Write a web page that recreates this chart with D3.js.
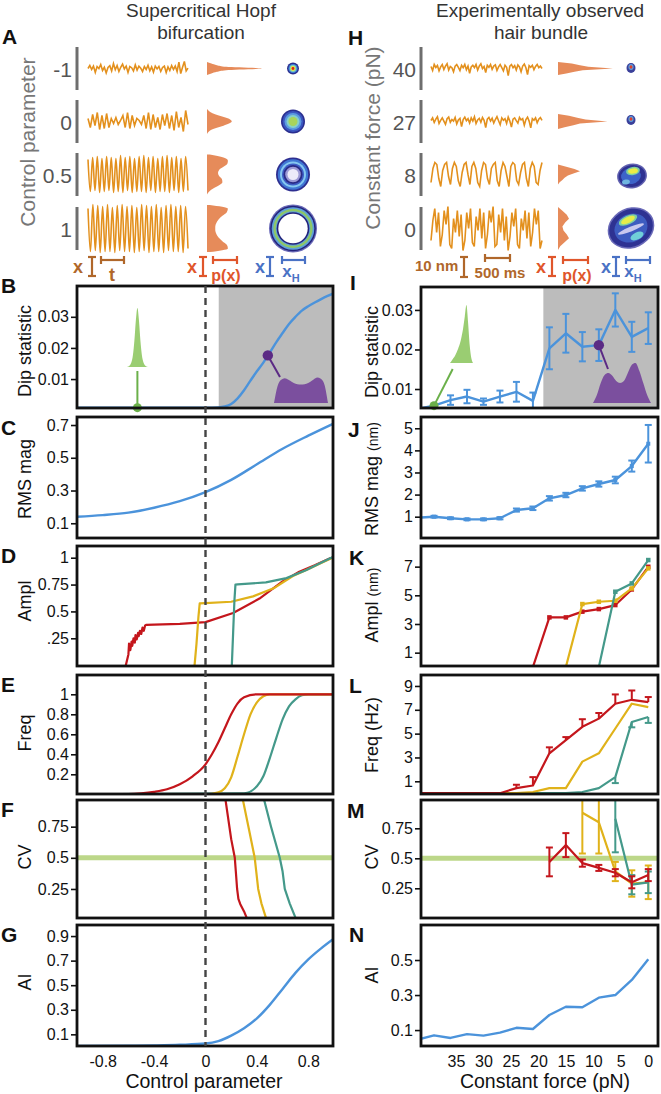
<!DOCTYPE html>
<html>
<head>
<meta charset="utf-8">
<script src="https://cdn.jsdelivr.net/npm/d3@7"></script>
<style>
  body { margin: 0; background: #fff; }
</style>
</head>
<body>
<div id="canva"></div>
<script>
// ---------- data: model (left column) ----------
const ctrlDip = [-1, -0.5, 0, 0.1, 0.15, 0.2, 0.25, 0.3, 0.35, 0.4, 0.45, 0.5, 0.55, 0.6, 0.65, 0.7, 0.75, 0.8, 0.85, 0.9, 0.95, 1];
const dipModel = [0.0008, 0.0008, 0.0008, 0.0009, 0.0012, 0.002, 0.0038, 0.0064, 0.0095, 0.0125, 0.0153, 0.0185, 0.0218, 0.0248, 0.0277, 0.030, 0.032, 0.0334, 0.0346, 0.0357, 0.0367, 0.0376];

const ctrlRms = [-1, -0.8, -0.6, -0.4, -0.2, 0, 0.2, 0.4, 0.6, 0.8, 1];
const rmsModel = [0.14, 0.15, 0.165, 0.195, 0.235, 0.29, 0.365, 0.46, 0.555, 0.635, 0.71];

const ctrlAmplRed = [-0.62, -0.6, -0.595, -0.585, -0.575, -0.57, -0.56, -0.55, -0.545, -0.535, -0.525, -0.52, -0.51, -0.5, -0.49, -0.48, -0.47, -0.46, -0.4, -0.2, 0, 0.215, 0.42, 0.6, 0.73, 0.85, 0.97, 1];
const amplRed = [0, 0.1, 0.2, 0.14, 0.22, 0.18, 0.25, 0.21, 0.28, 0.24, 0.3, 0.27, 0.32, 0.29, 0.35, 0.32, 0.37, 0.375, 0.378, 0.385, 0.4, 0.485, 0.62, 0.78, 0.87, 0.93, 0.995, 1.005];
const ctrlAmplYel = [-0.085, -0.07, -0.055, -0.045, 0, 0.2, 0.37, 0.53, 0.68, 0.785, 0.9, 1];
const amplYel = [0, 0.2, 0.45, 0.575, 0.578, 0.59, 0.64, 0.715, 0.83, 0.885, 0.95, 1.005];
const ctrlAmplTeal = [0.205, 0.215, 0.225, 0.233, 0.25, 0.47, 0.63, 0.785, 0.97, 1];
const amplTeal = [0, 0.3, 0.6, 0.75, 0.752, 0.77, 0.81, 0.885, 0.995, 1.01];

const ctrlFreqRed = [-1, -0.6, -0.5, -0.4, -0.3, -0.2, -0.1, 0, 0.05, 0.1, 0.15, 0.2, 0.25, 0.3, 0.4, 0.5, 1];
const freqRed = [0, 0.003, 0.01, 0.025, 0.05, 0.1, 0.18, 0.3, 0.4, 0.52, 0.66, 0.8, 0.91, 0.97, 1, 1, 1];
const ctrlFreqYel = [-1, 0, 0.1, 0.15, 0.2, 0.25, 0.3, 0.35, 0.4, 0.45, 0.5, 0.6, 1];
const freqYel = [0, 0, 0.02, 0.06, 0.17, 0.38, 0.6, 0.8, 0.92, 0.98, 1, 1, 1];
const ctrlFreqTeal = [-1, 0.3, 0.4, 0.45, 0.5, 0.55, 0.6, 0.65, 0.7, 0.75, 0.8, 1];
const freqTeal = [0, 0.01, 0.08, 0.18, 0.36, 0.56, 0.75, 0.88, 0.95, 0.99, 1, 1];

const ctrlCvRed = [0.155, 0.2, 0.228, 0.236, 0.246, 0.256, 0.27, 0.3, 0.32];
const cvRed = [0.97, 0.65, 0.5, 0.39, 0.25, 0.17, 0.13, 0.07, 0.02];
const ctrlCvYel = [0.29, 0.34, 0.383, 0.395, 0.41, 0.435, 0.47];
const cvYel = [0.97, 0.72, 0.5, 0.39, 0.25, 0.135, 0.02];
const ctrlCvTeal = [0.455, 0.51, 0.578, 0.6, 0.617, 0.655, 0.7];
const cvTeal = [0.97, 0.75, 0.5, 0.39, 0.25, 0.135, 0.02];

const ctrlAi = [-1, -0.6, -0.4, -0.2, 0, 0.1, 0.2, 0.3, 0.4, 0.5, 0.6, 0.7, 0.8, 0.9, 1];
const aiModel = [0.005, 0.007, 0.01, 0.015, 0.025, 0.045, 0.09, 0.15, 0.23, 0.34, 0.47, 0.6, 0.71, 0.8, 0.88];

// ---------- data: hair bundle (right column) ----------
const force = [42, 39, 36, 33, 30, 27, 24, 21, 18, 15, 12, 9, 6, 3, 0];
const dipExp = [0.005, 0.0058, 0.0072, 0.0081, 0.0068, 0.0081, 0.0093, 0.007, 0.0203, 0.0241, 0.0207, 0.0211, 0.03, 0.0232, 0.0254];
const dipErr = [0, 0, 0.0012, 0.0017, 0.0008, 0.0015, 0.0025, 0.0021, 0.0053, 0.0049, 0.0037, 0.004, 0.0042, 0.0038, 0.004];
const rmsExp = [0.95, 1.0, 0.93, 0.88, 0.88, 0.93, 1.3, 1.38, 1.83, 1.98, 2.28, 2.48, 2.66, 3.29, 4.3];
const rmsErr = [0, 0.04, 0.04, 0.04, 0.04, 0.05, 0.07, 0.08, 0.1, 0.1, 0.1, 0.12, 0.15, 0.25, 0.85];
const aiExp = [0.045, 0.07, 0.055, 0.077, 0.068, 0.085, 0.113, 0.106, 0.186, 0.233, 0.23, 0.285, 0.3, 0.386, 0.504];

const forceAmplRed = [21, 18, 15, 12, 9, 6, 3, 0];
const amplExpRed = [0, 3.46, 3.46, 3.86, 4.04, 4.32, 5.41, 6.99];
const forceAmplYel = [15, 12, 9, 6, 3, 0];
const amplExpYel = [0, 4.39, 4.55, 4.62, 5.48, 6.88];
const forceAmplTeal = [9, 6, 3, 0];
const amplExpTeal = [0, 5.25, 5.83, 7.46];

const freqExpRed = [0, 0, 0, 0, 0, 0, 0.43, 0.65, 3.35, 4.46, 5.57, 6.26, 7.51, 7.84, 7.65];
const freqErrRed = [0, 0, 0, 0, 0, 0, 0.28, 0.7, 0.5, 0.25, 0.64, 0.47, 0.78, 0.78, 0.42];
const freqExpYel = [0, 0, 0, 0, 0, 0, 0, 0.1, 0.43, 0.43, 2.65, 3.35, 5.43, 7.51, 7.23];
const freqExpTeal = [0, 0, 0, 0, 0, 0, 0, 0, 0, 0, 0.1, 0.43, 1.35, 5.98, 6.4];
const freqErrTeal = [0, 0, 0, 0, 0, 0, 0, 0, 0, 0, 0, 0, 0.5, 0.45, 0.5];

const forceCvRed = [18, 15, 12, 9, 6, 3, 0];
const cvExpRed = [0.47, 0.61, 0.46, 0.42, 0.38, 0.3, 0.36];
const cvErrRed = [0.12, 0.1, 0.03, 0.025, 0.03, 0.05, 0.05];
const forceCvYel = [12, 9, 6, 3, 0];
const cvExpYel = [0.88, 0.8, 0.39, 0.29, 0.3];
const cvErrYel = [0.34, 0.26, 0.08, 0.11, 0.14];
const forceCvTeal = [6, 3, 0];
const cvExpTeal = [0.83, 0.28, 0.3];
const cvErrTeal = [0.28, 0.08, 0.09];

// ---------- data: example traces and distributions (panels A, H) ----------
const rowLabelsL = ["-1", "0", "0.5", "1"];
const rowLabelsR = ["40", "27", "8", "0"];
const traceM1 = [0, 0.15, -0.05, 0.12, -0.2, 0.1, 0, 0.2, -0.1, 0.06, -0.22, 0.05, 0.14, -0.12, 0.25, -0.06, 0.15, -0.15, 0.06, 0.22, -0.02, 0.12, -0.2, 0.1, 0.04, -0.12, 0.18, -0.08, 0.12, 0.02, -0.15, 0.1, -0.05, 0.16, -0.12, 0.08, -0.18, 0.12, -0.02, 0.1, -0.15, 0.05, 0.12, -0.2, 0.08, -0.1, 0.15, -0.05, 0.12, -0.15, 0.32, -0.25, 0.06, 0.35, -0.12, 0.02];
const trace0 = [0.15, -0.3, 0.35, -0.2, 0.45, -0.4, 0.3, -0.35, 0.4, -0.3, 0.15, -0.1, 0.2, -0.15, 0.05, 0.3, -0.3, 0.45, -0.35, 0.3, -0.2, 0.15, 0.05, -0.15, 0.3, -0.35, 0.45, -0.4, 0.35, -0.3, 0.2, -0.4, 0.35, -0.2, 0.4, -0.35, 0.3, -0.45, 0.5, -0.3, 0.2, -0.5, 0.55, -0.15];
const trace05 = [0.75, -0.85, 0.85, -0.8, 0.9, -0.9, 0.8, -0.85, 0.9, -0.8, 0.85, -0.9, 0.8, -0.85, 0.95, -0.9, 0.85, -0.8, 0.9, -0.9, 0.8, -0.85, 0.9, -0.85, 0.95, -0.9, 0.85, -0.8, 0.9, -0.9, 0.8, -0.85, 0.9, -0.85, 0.95, -0.9, 0.85, -0.8, 0.9, -0.9, 0.8, -0.85, 0.9, -0.8];
const trace1 = [1.0, -1.15, 1.2, -1.1, 1.15, -1.2, 1.1, -1.15, 1.2, -1.15, 1.05, -1.2, 1.15, -1.1, 1.2, -1.15, 1.1, -1.15, 1.15, -1.2, 1.05, -1.15, 1.2, -1.1, 1.15, -1.2, 1.1, -1.15, 1.2, -1.15, 1.05, -1.2, 1.15, -1.1, 1.2, -1.15, 1.1, -1.15, 1.15, -1.2, 1.1, -1.0];
const trace40 = [1, -1, 2, 0.5, 1.5, -1.2, 0.8, 2, -0.5, 1.2, 2.4, -0.8, 1, 0.4, -1.6, 1.2, 2, 0.6, -1, 1.6, 0.4, 2, -0.6, 1.2, -2.4, 0.8, 1.6, 0.4, 2, -0.8, 1.2, 2.4, 0, 1, -2, 1.6, 0.6, 2, -0.4, 1.2, 1.8, -1, 0.8, 2, 0.4, -1.2, 1.6, 0.6, -3.6, 1.2, 2, 0.4, 1.4, -0.8, 1.8, 0.8, -1.6, 1.2, 2.2, 0.4, -3, 1.4, 0.6, 1.6, -0.6, 1, 2, 0.4, 1.2, 0];
const trace27 = [0.5, 1.8, -0.5, 1.2, 2.4, -1, 0.6, 1.8, 0.2, -1.4, 1.4, 2.2, -0.4, 1, 0.2, 2, -1.2, 0.8, 1.6, -2.6, 1, 2.2, 0.4, 1.4, -0.8, 1.8, 0.2, 2.4, -1, 0.8, 1.6, -0.4, 2, 0.6, -3, 1.2, 2, 0.2, 1.6, -0.8, 1, 2.4, 0.4, -1.6, 1.8, 0.6, 1.4, -1, 2.2, 0.2, -2.8, 1.2, 1.8, 0.4, -0.8, 2, 0.8, 1.4, -1.8, 1, 2.2, 0.2, -3.2, 1.4, 0.6, 1.8, -0.6, 1.2, 2, 0.6];
const trace8 = [-4, 3, 6, 5, -2, -6, 2, 5, 6, -1, -5, 3, 6, 4, -3, -6, 1, 5, 6, 0, -5, 4, 6, 3, -4, -6, 2, 6, 5, -2, -5, 3, 5, 6, -3, -6, 2, 6, 4, -1, -6, 4, 6, 5, -3, -5, 1, 5, 6, -2, -6, 3, 6, 4, -4, -5, 2, 6];
const traceF0 = [-6, 4, 10, -2, 8, -9, -3, 9, 2, 11, -8, -10, 5, -2, 9, -4, 7, -11, -6, 8, 0, 10, -7, -9, 6, -1, 10, -5, 8, -10, -3, 9, 3, 11, -9, -8, 7, -2, 10, -6, 6, -11, -4, 8, 1, 10, -8, -10, 5, -1, 9, -5, 8, -9, -2, 10, 2, 9, -10, -6];
const histM1 = [0, 0.08, 0.18, 0.35, 1, 0.35, 0.18, 0.08, 0];
const hist0 = [0, 0.04, 0.1, 0.2, 0.32, 0.42, 0.45, 0.4, 0.3, 0.18, 0.08, 0.03, 0];
const hist05 = [0.05, 0.3, 0.38, 0.37, 0.3, 0.22, 0.2, 0.22, 0.27, 0.28, 0.22, 0.12, 0.04, 0];
const hist1 = [0.05, 0.38, 0.36, 0.28, 0.21, 0.17, 0.15, 0.15, 0.17, 0.21, 0.28, 0.36, 0.38, 0.05];
const hist40 = [0, 0.25, 0.4, 0.55, 1, 0.45, 0.3, 0.15, 0];
const hist27 = [0, 0.2, 0.35, 0.5, 0.9, 0.4, 0.28, 0.12, 0];
const hist8 = [0, 0.15, 0.3, 0.4, 0.28, 0.18, 0.12, 0.08, 0.03, 0];
const histF0 = [0, 0.08, 0.16, 0.2, 0.13, 0.08, 0.1, 0.16, 0.2, 0.12, 0.04, 0];
const histSpanL = [0.33, 0.62, 1.0, 1.18];
const histSpanR = [3.3, 3.8, 5, 10.8];
const greenHistB = [0, 0.01, 0.03, 0.08, 0.2, 0.45, 0.8, 1, 0.8, 0.45, 0.2, 0.08, 0.03, 0.01, 0];
const purpleHistB = [0, 0.55, 0.75, 0.8, 0.75, 0.68, 0.62, 0.6, 0.6, 0.62, 0.68, 0.76, 0.82, 0.78, 0.6, 0];
const greenHistI = [0, 0.04, 0.08, 0.12, 0.18, 0.25, 0.33, 0.45, 0.6, 0.8, 1, 0.7, 0.3, 0.08, 0];
const purpleHistI = [0, 0.2, 0.5, 0.7, 0.75, 0.68, 0.55, 0.5, 0.55, 0.75, 0.95, 1, 0.8, 0.5, 0.2, 0];

// ---------- setup ----------
const RED = "#c4161c", YEL = "#e0b21a", TEAL = "#44998a", BLUE = "#4b93db";
const ORANGE = "#e3901d", HIST = "#e68b5a";

const svg = d3.select("#canva").append("svg")
    .attr("width", 661).attr("height", 1094)
    .style("font-family", "'Liberation Sans', Arial, sans-serif");

const defs = svg.append("defs");
defs.append("filter").attr("id", "soft").append("feGaussianBlur").attr("stdDeviation", 0.7);

const xL = d3.scaleLinear().domain([-1, 1]).range([77, 334]);
const xR = d3.scaleLinear().domain([41.37, -1.77]).range([421, 658]);
const frameL = [77, 333], frameR = [421, 658];
const frames = [];

function makePanel(side, top, bottom, domain, ticks, fmt) {
    const x = side === "L" ? xL : xR;
    const fr = side === "L" ? frameL : frameR;
    const y = d3.scaleLinear().domain(domain).range([bottom, top]);
    const id = "clip" + side + top;
    defs.append("clipPath").attr("id", id).append("rect")
        .attr("x", fr[0]).attr("y", top).attr("width", fr[1] - fr[0]).attr("height", bottom - top);
    const g = svg.append("g").attr("clip-path", `url(#${id})`);
    const ax = svg.append("g").attr("transform", `translate(${fr[0] - 1},0)`)
        .call(d3.axisLeft(y).tickValues(ticks).tickSize(5).tickPadding(2).tickFormat(fmt || (d => d)));
    ax.select(".domain").remove();
    ax.selectAll("text").style("font-size", "16px").attr("fill", "#111");
    ax.selectAll("line").attr("stroke", "#111").attr("stroke-width", 1.6);
    frames.push({ fr, top, bottom });
    return { x, y, g };
}

function drawLine(p, xs, ys, color, curve, w) {
    p.g.append("path").datum(d3.zip(xs, ys))
        .attr("fill", "none").attr("stroke", color).attr("stroke-width", w || 2.2)
        .attr("stroke-linejoin", "round")
        .attr("d", d3.line().x(d => p.x(d[0])).y(d => p.y(d[1])).curve(curve || d3.curveLinear));
}

function drawErr(p, xs, ys, up, down, color, cap) {
    const g = p.g.append("g").attr("stroke", color).attr("stroke-width", 2);
    xs.forEach((xv, i) => {
        const u = up[i], dn = down[i];
        if (!u && !dn) return;
        const cx = p.x(xv);
        const y0 = p.y(ys[i] - dn), y1 = p.y(ys[i] + u);
        g.append("line").attr("x1", cx).attr("x2", cx).attr("y1", y0).attr("y2", y1);
        if (u) g.append("line").attr("x1", cx - cap).attr("x2", cx + cap).attr("y1", y1).attr("y2", y1);
        if (dn) g.append("line").attr("x1", cx - cap).attr("x2", cx + cap).attr("y1", y0).attr("y2", y0);
    });
}

function drawMarks(p, xs, ys, color, s) {
    p.g.selectAll(null).data(d3.zip(xs, ys)).enter().append("rect")
        .attr("x", d => p.x(d[0]) - s / 2).attr("y", d => p.y(d[1]) - s / 2)
        .attr("width", s).attr("height", s).attr("fill", color);
}

function yLabel(x, cy, parts) {
    const t = svg.append("text").attr("transform", `translate(${x},${cy}) rotate(-90)`)
        .attr("text-anchor", "middle").attr("fill", "#111");
    parts.forEach(([s, fs]) => t.append("tspan").text(s).style("font-size", fs + "px"));
}

function letter(s, x, y) {
    svg.append("text").attr("x", x).attr("y", y).text(s)
        .style("font-size", "21px").style("font-weight", "bold").attr("fill", "#111");
}

// a small histogram shape anchored on a baseline
function inset(vals, x0, x1, base, h, color) {
    const sx = d3.scaleLinear().domain([0, vals.length - 1]).range([x0, x1]);
    const sh = d3.scaleLinear().domain([0, 1]).range([base, base - h]);
    svg.append("path").datum(vals).attr("fill", color)
        .attr("d", d3.area().x((d, i) => sx(i)).y0(base).y1(d => sh(d)).curve(d3.curveMonotoneX));
}

// ---------- top panels A and H ----------
svg.append("text").attr("x", 201).attr("y", 17).attr("text-anchor", "middle").text("Supercritical Hopf")
    .style("font-size", "19px").attr("fill", "#333");
svg.append("text").attr("x", 201).attr("y", 39).attr("text-anchor", "middle").text("bifurcation")
    .style("font-size", "19px").attr("fill", "#333");
svg.append("text").attr("x", 540).attr("y", 17).attr("text-anchor", "middle").text("Experimentally observed")
    .style("font-size", "19px").attr("fill", "#333");
svg.append("text").attr("x", 541).attr("y", 39).attr("text-anchor", "middle").text("hair bundle")
    .style("font-size", "19px").attr("fill", "#333");

svg.append("text").attr("transform", "translate(35,142) rotate(-90)").attr("text-anchor", "middle")
    .text("Control parameter").style("font-size", "21px").attr("fill", "#777");
svg.append("text").attr("transform", "translate(380,138) rotate(-90)").attr("text-anchor", "middle")
    .text("Constant force (pN)").style("font-size", "21px").attr("fill", "#777");

const rowY = [68.5, 121.5, 174.5, 228.5];
const tracesL = [traceM1, trace0, trace05, trace1];
const tracesR = [trace40, trace27, trace8, traceF0];
const histsL = [histM1, hist0, hist05, hist1];
const histsR = [hist40, hist27, hist8, histF0];

rowY.forEach((cy, i) => {
    // row labels and bars
    svg.append("text").attr("x", 72).attr("y", cy + 8).attr("text-anchor", "end").text(rowLabelsL[i])
        .style("font-size", "21px").attr("fill", "#555");
    svg.append("text").attr("x", 416).attr("y", cy + 8).attr("text-anchor", "end").text(rowLabelsR[i])
        .style("font-size", "21px").attr("fill", "#555");
    [77, 421].forEach(bx => svg.append("line").attr("x1", bx).attr("x2", bx)
        .attr("y1", cy - 21.5).attr("y2", cy + 21.5).attr("stroke", "#6e6e6e").attr("stroke-width", 3));

    // model trace: 20 px per unit of x
    const tyL = d3.scaleLinear().domain([-1, 1]).range([cy + 20, cy - 20]);
    const txL = d3.scaleLinear().domain([0, tracesL[i].length - 1]).range([88, 188]);
    svg.append("path").datum(tracesL[i]).attr("fill", "none").attr("stroke", ORANGE).attr("stroke-width", 1.6)
        .attr("d", d3.line().x((d, j) => txL(j)).y(d => tyL(d)).curve(i >= 2 ? d3.curveMonotoneX : d3.curveLinear));

    // bundle trace: 2 px per nm
    const tyR = d3.scaleLinear().domain([-10, 10]).range([cy + 20, cy - 20]);
    const txR = d3.scaleLinear().domain([0, tracesR[i].length - 1]).range([431, 542]);
    svg.append("path").datum(tracesR[i]).attr("fill", "none").attr("stroke", ORANGE).attr("stroke-width", 1.6)
        .attr("d", d3.line().x((d, j) => txR(j)).y(d => tyR(d)));

    // p(x) histograms
    const hl = histsL[i], hr = histsR[i];
    const hyL = d3.scaleLinear().domain([0, hl.length - 1]).range([tyL(histSpanL[i]), tyL(-histSpanL[i])]);
    const pxL = d3.scaleLinear().domain([0, 1]).range([207, 262]);
    svg.append("path").datum(hl).attr("fill", HIST)
        .attr("d", d3.area().y((d, j) => hyL(j)).x0(207).x1(d => pxL(d)).curve(d3.curveMonotoneY));
    const hyR = d3.scaleLinear().domain([0, hr.length - 1]).range([tyR(histSpanR[i]), tyR(-histSpanR[i])]);
    const pxR = d3.scaleLinear().domain([0, 1]).range([558, 613]);
    svg.append("path").datum(hr).attr("fill", HIST)
        .attr("d", d3.area().y((d, j) => hyR(j)).x0(558).x1(d => pxR(d)).curve(d3.curveLinear));
});

// phase portraits (model): concentric density rings
const ringsModel = [
    [[6, "#2b2f8f"], [4.6, "#3f7fd8"], [3.4, "#7fd4b8"], [2.4, "#f0e23a"], [1.4, "#d8231c"]],
    [[12, "#2b2f8f"], [10.5, "#3a56c0"], [8.5, "#5b9be0"], [6.5, "#86d0c8"], [4.5, "#a8d45a"]],
    [[17, "#2d2f90"], [15.2, "#3f76d4"], [13, "#85c8f0"], [11, "#3d5cc4"], [9.5, "#2a2a86"], [7.8, "#9c9ad6"], [5.5, "#ecebfa"]],
    [[24, "#6a6ab8"], [22.8, "#23247c"], [21.3, "#5fa0d8"], [19.6, "#8fc865"], [17.3, "#5fa0d8"], [16.3, "#23247c"], [14.7, "#ffffff"]]
];
const gRings = svg.append("g").attr("filter", "url(#soft)");
ringsModel.forEach((rings, i) => {
    rings.forEach(([r, c]) => gRings.append("circle").attr("cx", 293).attr("cy", rowY[i]).attr("r", r).attr("fill", c));
});

// phase portraits (bundle): irregular blobs
const gBlob = svg.append("g").attr("filter", "url(#soft)");
function blob(cx, cy, rx, ry, rot, c) {
    gBlob.append("ellipse").attr("cx", cx).attr("cy", cy).attr("rx", rx).attr("ry", ry)
        .attr("transform", `rotate(${rot},${cx},${cy})`).attr("fill", c);
}
blob(631, 68, 4.5, 5, 0, "#3a3f9a"); blob(631, 67, 2.6, 3, 0, "#5aa0e0"); blob(631, 67, 1.5, 1.8, 0, "#e0402a");
blob(631, 120, 4.5, 5, 0, "#3a3f9a"); blob(631, 119, 2.6, 3, 0, "#5aa0e0"); blob(631, 119, 1.5, 1.8, 0, "#e0402a");
blob(632, 176, 15, 12.5, -10, "#6262b0"); blob(632, 176, 13.5, 11, -10, "#2e3192");
blob(631, 176, 10, 8, -10, "#3d63c9"); blob(633, 171, 7, 4, -10, "#7fd0a0"); blob(633, 171, 5, 2.6, -10, "#ecec45");
blob(626, 182, 4, 2.5, -10, "#6fb6e0");
blob(631, 228, 24, 20, -25, "#6a6ab8"); blob(631, 228, 22.5, 18.5, -25, "#2e3192");
blob(631, 228, 17, 14, -25, "#3d5bc0"); blob(628, 220, 10, 4.5, -25, "#7fd0a0"); blob(628, 220, 7.5, 3, -25, "#e6ec4a");
blob(631, 229, 14, 2.4, -22, "#c8c8ee"); blob(637, 236, 7, 3.6, -25, "#6fcfd8");

// scale bars
const BROWN = "#b0672a", XRED = "#e0562b", XBLUE = "#4a72c5";
function ibar(x, y0, y1, c) {
    const g = svg.append("g").attr("stroke", c).attr("stroke-width", 2.2);
    g.append("line").attr("x1", x).attr("x2", x).attr("y1", y0).attr("y2", y1);
    g.append("line").attr("x1", x - 4).attr("x2", x + 4).attr("y1", y0).attr("y2", y0);
    g.append("line").attr("x1", x - 4).attr("x2", x + 4).attr("y1", y1).attr("y2", y1);
}
function hbar(x0, x1, y, c) {
    const g = svg.append("g").attr("stroke", c).attr("stroke-width", 2.2);
    g.append("line").attr("x1", x0).attr("x2", x1).attr("y1", y).attr("y2", y);
    g.append("line").attr("x1", x0).attr("x2", x0).attr("y1", y - 4).attr("y2", y + 4);
    g.append("line").attr("x1", x1).attr("x2", x1).attr("y1", y - 4).attr("y2", y + 4);
}
function btext(s, x, y, c, fs, anchor) {
    return svg.append("text").attr("x", x).attr("y", y).attr("text-anchor", anchor || "start").text(s)
        .style("font-size", (fs || 18) + "px").style("font-weight", "bold").attr("fill", c);
}
btext("x", 73, 273, BROWN); ibar(92, 257, 276, BROWN); hbar(101, 124, 260, BROWN); btext("t", 112, 281, BROWN, 18, "middle");
btext("x", 187, 273, XRED); ibar(203, 257, 276, XRED); hbar(213, 237, 260, XRED); btext("p(x)", 226, 281, XRED, 16, "middle");
btext("x", 255, 273, XBLUE); ibar(270, 257, 276, XBLUE); hbar(282, 305, 260, XBLUE);
btext("x", 291, 277, XBLUE, 17, "middle").append("tspan").text("H").attr("dy", 5).style("font-size", "11px");
btext("10 nm", 415, 271, BROWN, 15); ibar(464, 257, 277, BROWN); hbar(485, 510, 258, BROWN);
btext("500 ms", 500, 278, BROWN, 15, "middle");
btext("x", 536, 273, XRED); ibar(552, 257, 276, XRED); hbar(563, 588, 260, XRED); btext("p(x)", 577, 281, XRED, 16, "middle");
btext("x", 601, 273, XBLUE); ibar(616, 257, 276, XBLUE); hbar(626, 650, 260, XBLUE);
btext("x", 633, 277, XBLUE, 17, "middle").append("tspan").text("H").attr("dy", 5).style("font-size", "11px");

// ---------- left column ----------
const pB = makePanel("L", 286, 408, [0.0007, 0.0399], [0.01, 0.02, 0.03], d3.format(".2f"));
pB.g.append("rect").attr("x", xL(0.103)).attr("y", 286).attr("width", 334 - xL(0.103)).attr("height", 122).attr("fill", "#bcbcbc");
drawLine(pB, ctrlDip, dipModel, BLUE, d3.curveMonotoneX, 2.4);

const pC = makePanel("L", 417, 538, [0.01, 0.749], [0.1, 0.3, 0.5, 0.7]);
drawLine(pC, ctrlRms, rmsModel, BLUE, d3.curveMonotoneX, 2.4);

const pD = makePanel("L", 546, 666, [-0.008, 1.109], [0.25, 0.5, 0.75, 1], d => d === 0.25 ? ".25" : d);
drawLine(pD, ctrlAmplRed, amplRed, RED);
drawLine(pD, ctrlAmplYel, amplYel, YEL);
drawLine(pD, ctrlAmplTeal, amplTeal, TEAL);

const pE = makePanel("L", 675, 794, [0.003, 1.193], [0.2, 0.4, 0.6, 0.8, 1]);
drawLine(pE, ctrlFreqTeal, freqTeal, TEAL, d3.curveMonotoneX);
drawLine(pE, ctrlFreqYel, freqYel, YEL, d3.curveMonotoneX);
drawLine(pE, ctrlFreqRed, freqRed, RED, d3.curveMonotoneX);

const pF = makePanel("L", 800, 918, [0.017, 0.964], [0.25, 0.5, 0.75]);
pF.g.append("line").attr("x1", 77).attr("x2", 334).attr("y1", pF.y(0.5)).attr("y2", pF.y(0.5))
    .attr("stroke", "#bcd789").attr("stroke-width", 5);
drawLine(pF, ctrlCvRed, cvRed, RED);
drawLine(pF, ctrlCvYel, cvYel, YEL);
drawLine(pF, ctrlCvTeal, cvTeal, TEAL);

const pG = makePanel("L", 925, 1046, [0.005, 0.99], [0.1, 0.3, 0.5, 0.7, 0.9]);
drawLine(pG, ctrlAi, aiModel, BLUE, d3.curveMonotoneX, 2.4);

// ---------- right column ----------
const pI = makePanel("R", 287, 408, [0.0052, 0.0358], [0.01, 0.02, 0.03], d3.format(".2f"));
pI.g.append("rect").attr("x", xR(19.1)).attr("y", 287).attr("width", 658 - xR(19.1)).attr("height", 121).attr("fill", "#bcbcbc");
drawLine(pI, force, dipExp, BLUE, d3.curveLinear, 2.4);
drawErr(pI, force, dipExp, dipErr, dipErr, BLUE, 3.5);

const pJ = makePanel("R", 417, 538, [0.036, 5.51], [1, 2, 3, 4, 5]);
drawLine(pJ, force, rmsExp, BLUE, d3.curveLinear, 2.4);
drawErr(pJ, force, rmsExp, rmsErr, rmsErr, BLUE, 3.5);
drawMarks(pJ, force, rmsExp, BLUE, 4);

const pK = makePanel("R", 546, 666, [0.07, 8.44], [1, 3, 5, 7]);
drawLine(pK, forceAmplRed, amplExpRed, RED);
drawMarks(pK, forceAmplRed.slice(1), amplExpRed.slice(1), RED, 4.5);
drawLine(pK, forceAmplYel, amplExpYel, YEL);
drawMarks(pK, forceAmplYel.slice(1), amplExpYel.slice(1), YEL, 4.5);
drawLine(pK, forceAmplTeal, amplExpTeal, TEAL);
drawMarks(pK, forceAmplTeal.slice(1), amplExpTeal.slice(1), TEAL, 4.5);

const pL = makePanel("R", 675, 794, [-0.066, 9.92], [1, 3, 5, 7, 9]);
drawLine(pL, force, freqExpTeal, TEAL);
drawErr(pL, force, freqExpTeal, force.map(() => 0), freqErrTeal, TEAL, 3.5);
drawLine(pL, force, freqExpYel, YEL);
drawLine(pL, force, freqExpRed, RED);
drawErr(pL, force, freqExpRed, freqErrRed, force.map(() => 0), RED, 3.5);

const pM = makePanel("R", 800, 918, [0.0025, 0.986], [0.25, 0.5, 0.75]);
pM.g.append("line").attr("x1", 421).attr("x2", 658).attr("y1", pM.y(0.5)).attr("y2", pM.y(0.5))
    .attr("stroke", "#bcd789").attr("stroke-width", 5);
drawLine(pM, forceCvYel, cvExpYel, YEL);
drawErr(pM, forceCvYel, cvExpYel, cvErrYel, cvErrYel, YEL, 3.5);
drawLine(pM, forceCvTeal, cvExpTeal, TEAL);
drawErr(pM, forceCvTeal, cvExpTeal, cvErrTeal, cvErrTeal, TEAL, 3.5);
drawLine(pM, forceCvRed, cvExpRed, RED);
drawErr(pM, forceCvRed, cvExpRed, cvErrRed, cvErrRed, RED, 3.5);

const pN = makePanel("R", 925, 1046, [0.009, 0.70], [0.1, 0.3, 0.5]);
drawLine(pN, force, aiExp, BLUE, d3.curveLinear, 2.4);

// ---------- insets in B and I ----------
const gx = xL(-0.53);
inset(greenHistB, gx - 10.5, gx + 10.5, 367, 59, "#9acd72");
svg.append("line").attr("x1", gx).attr("x2", gx).attr("y1", 371).attr("y2", pB.y(0.0008)).attr("stroke", "#6bb04a").attr("stroke-width", 2);
svg.append("circle").attr("cx", gx).attr("cy", pB.y(0.0008)).attr("r", 4.5).attr("fill", "#6bb04a");
inset(purpleHistB, 274, 328, 403, 31, "#7b4f9e");
svg.append("line").attr("x1", xL(0.485)).attr("y1", pB.y(0.0176)).attr("x2", 280).attr("y2", 377).attr("stroke", "#5b2a84").attr("stroke-width", 2);
svg.append("circle").attr("cx", xL(0.485)).attr("cy", pB.y(0.0176)).attr("r", 5.2).attr("fill", "#5b2a84");

inset(greenHistI, 450, 473, 363, 58, "#9acd72");
svg.append("line").attr("x1", 452.7).attr("y1", 369).attr("x2", xR(39)).attr("y2", pI.y(0.0058)).attr("stroke", "#6bb04a").attr("stroke-width", 2);
svg.append("circle").attr("cx", xR(39)).attr("cy", pI.y(0.0058)).attr("r", 4.5).attr("fill", "#6bb04a");
inset(purpleHistI, 593, 651, 403, 40, "#7b4f9e");
svg.append("line").attr("x1", xR(9)).attr("y1", pI.y(0.0211)).attr("x2", 608).attr("y2", 369).attr("stroke", "#5b2a84").attr("stroke-width", 2);
svg.append("circle").attr("cx", xR(9)).attr("cy", pI.y(0.0211)).attr("r", 5.2).attr("fill", "#5b2a84");

// ---------- frames, dashed line, axes ----------
frames.forEach(f => svg.append("rect").attr("x", f.fr[0]).attr("y", f.top)
    .attr("width", f.fr[1] - f.fr[0]).attr("height", f.bottom - f.top)
    .attr("fill", "none").attr("stroke", "#111").attr("stroke-width", 2.8));

svg.append("line").attr("x1", xL(0)).attr("x2", xL(0)).attr("y1", 286).attr("y2", 1046)
    .attr("stroke", "#444").attr("stroke-width", 2.4).attr("stroke-dasharray", "7,5");

const axL = svg.append("g").attr("transform", "translate(0,1050)")
    .call(d3.axisBottom(xL).tickValues([-0.8, -0.4, 0, 0.4, 0.8]).tickSize(0).tickPadding(6).tickFormat(d => d));
const axR = svg.append("g").attr("transform", "translate(0,1050)")
    .call(d3.axisBottom(xR).tickValues([35, 30, 25, 20, 15, 10, 5, 0]).tickSize(0).tickPadding(6));
[axL, axR].forEach(a => {
    a.select(".domain").remove();
    a.selectAll("text").style("font-size", "16px").attr("fill", "#111");
});
svg.append("text").attr("x", 204).attr("y", 1088).attr("text-anchor", "middle").text("Control parameter")
    .style("font-size", "19.5px").attr("fill", "#111");
svg.append("text").attr("x", 545).attr("y", 1088).attr("text-anchor", "middle").text("Constant force (pN)")
    .style("font-size", "19.5px").attr("fill", "#111");

// y labels
yLabel(31, 351, [["Dip statistic", 18]]);
yLabel(31, 479, [["RMS mag", 18]]);
yLabel(31, 601, [["Ampl", 18]]);
yLabel(31, 733, [["Freq", 18]]);
yLabel(31, 857, [["CV", 18]]);
yLabel(31, 982, [["AI", 18]]);
yLabel(378, 352, [["Dip statistic", 18]]);
yLabel(378, 479, [["RMS mag ", 18], ["(nm)", 14]]);
yLabel(378, 605, [["Ampl ", 18], ["(nm)", 14]]);
yLabel(378, 735, [["Freq (Hz)", 18]]);
yLabel(378, 857, [["CV", 18]]);
yLabel(378, 975, [["AI", 18]]);

// panel letters
letter("A", 2, 44); letter("H", 348, 45);
letter("B", 1, 293); letter("I", 350, 290);
letter("C", 1, 435); letter("J", 348, 437);
letter("D", 1, 563); letter("K", 349, 565);
letter("E", 1, 692); letter("L", 349, 693);
letter("F", 1, 817); letter("M", 347, 818);
letter("G", 1, 942); letter("N", 349, 942);
</script>
</body>
</html>
